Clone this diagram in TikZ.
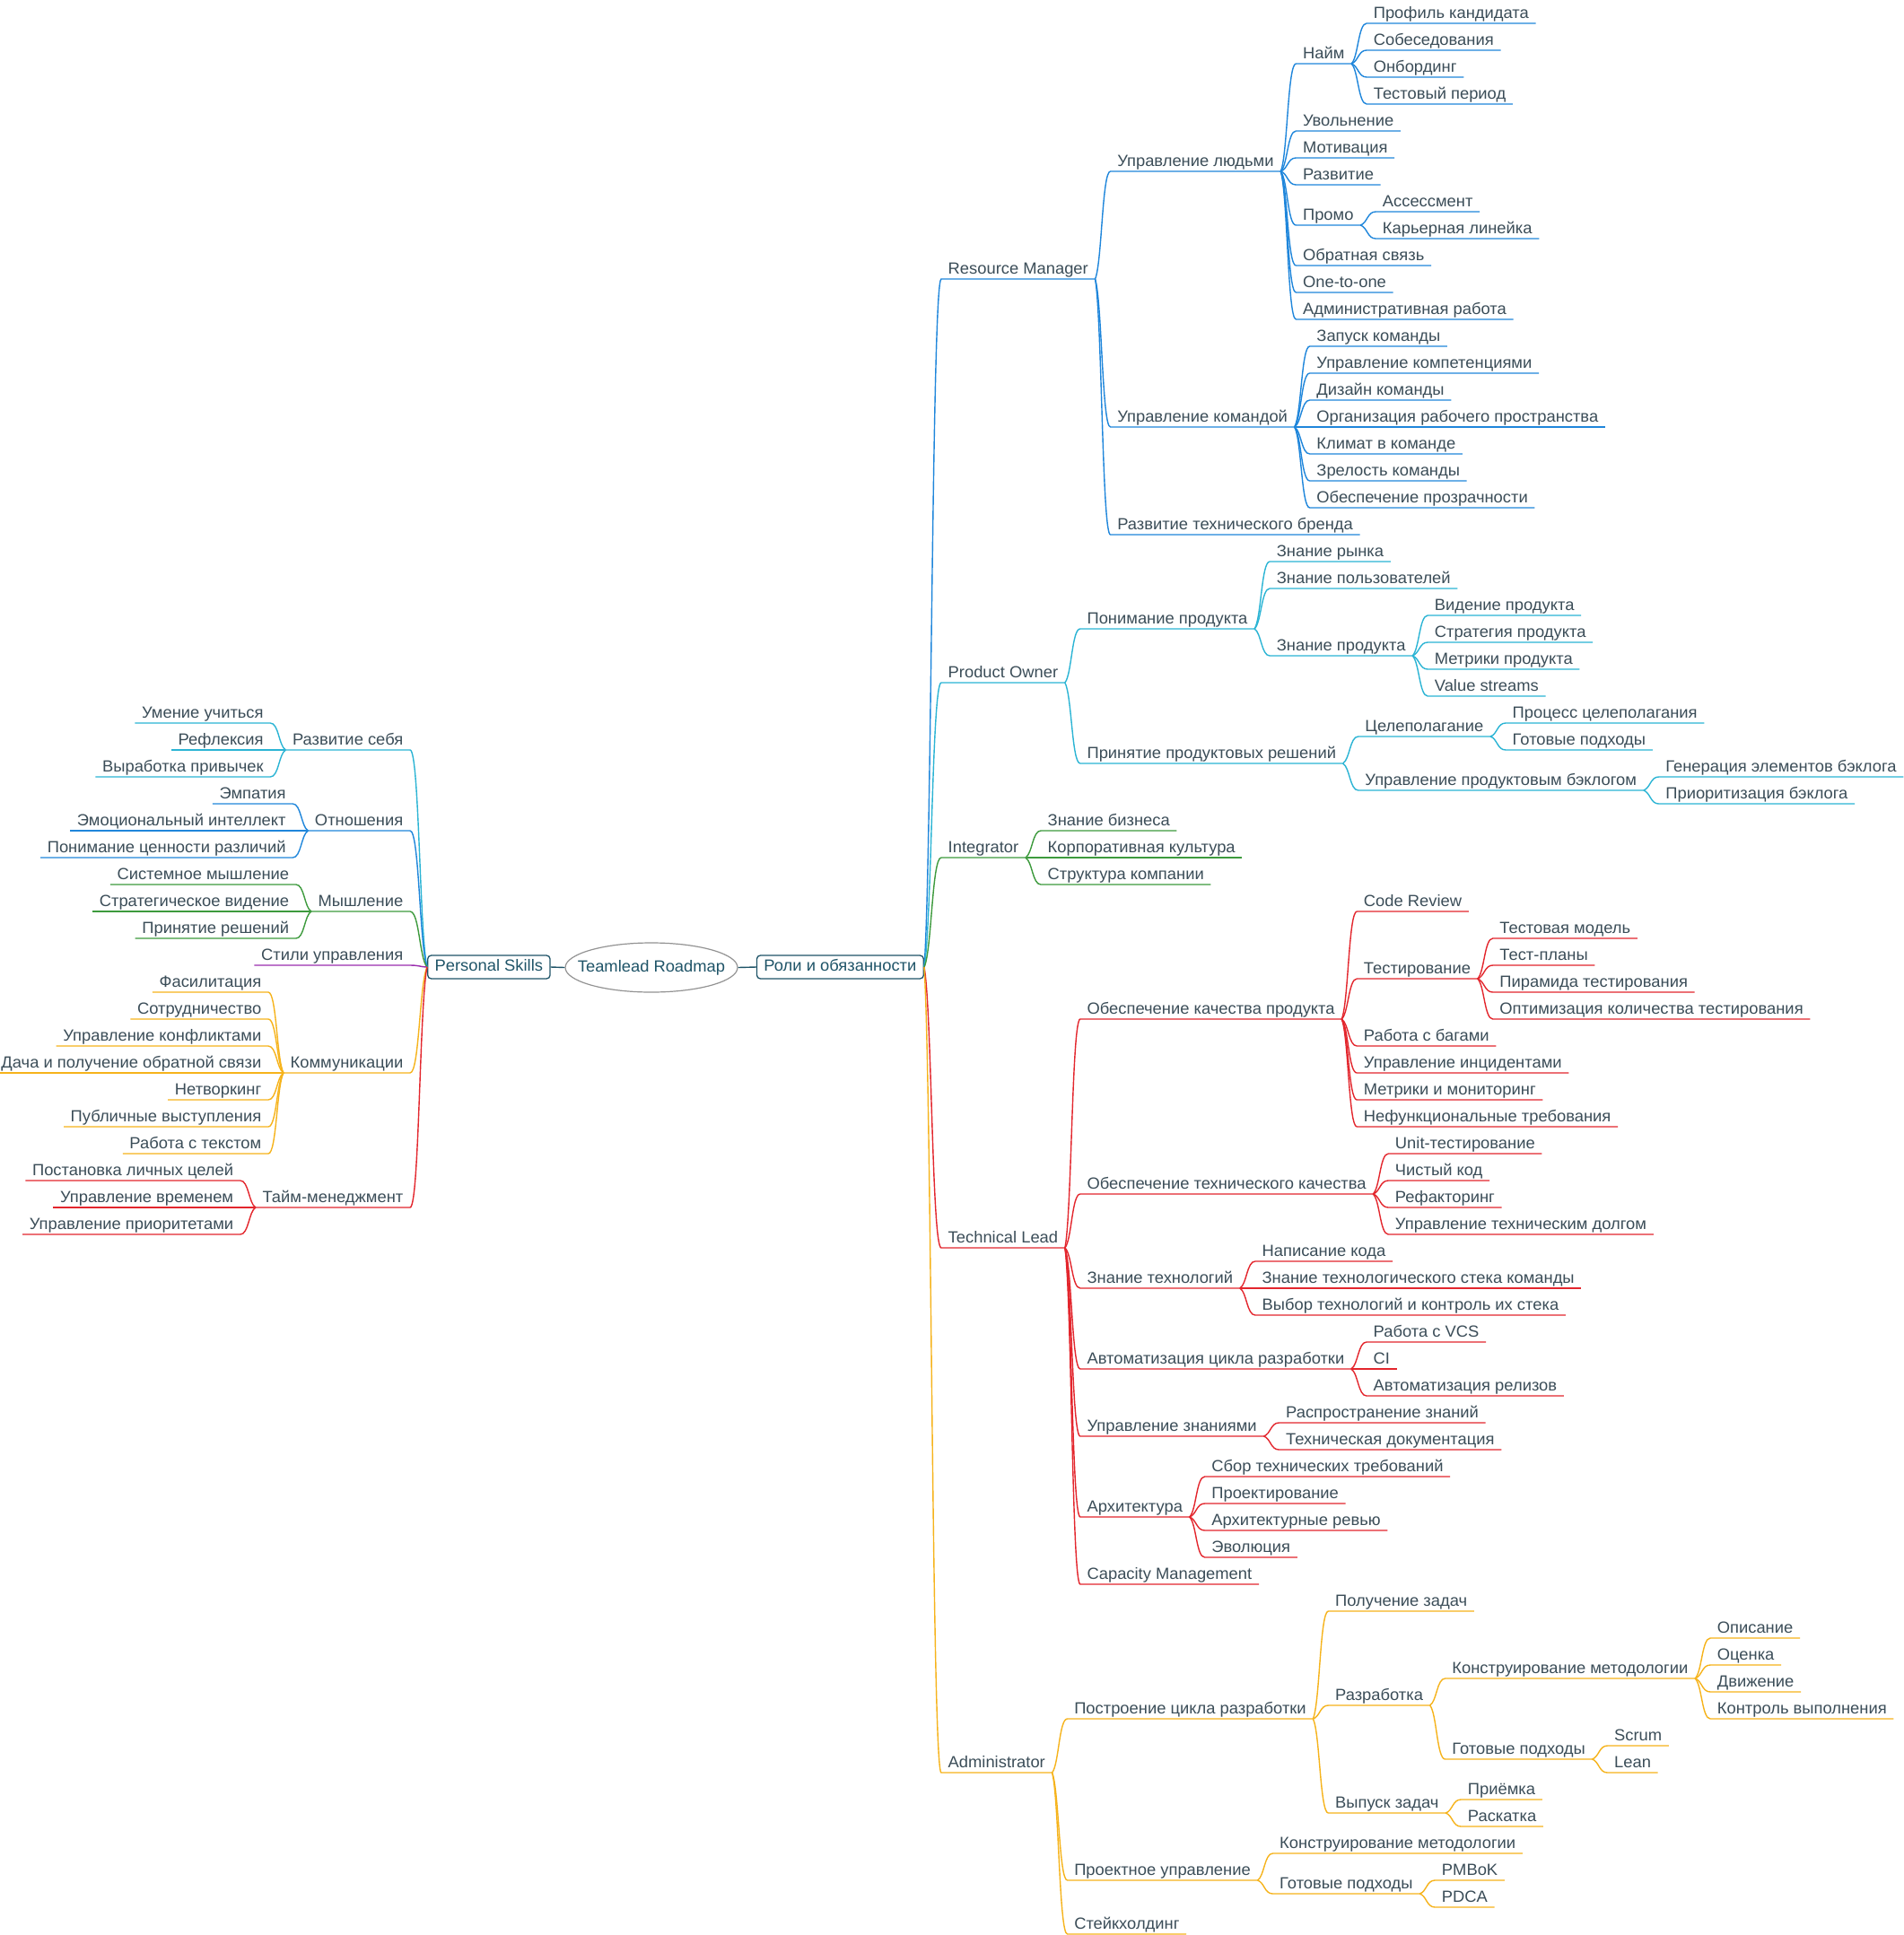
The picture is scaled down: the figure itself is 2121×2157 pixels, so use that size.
\documentclass[tikz,border=0pt]{standalone}
\usepackage{fontspec}
\setmainfont[FakeStretch=1.02]{Liberation Sans}
\usetikzlibrary{calc,shapes.geometric}
\definecolor{cB}{HTML}{1F86DB}
\definecolor{cC}{HTML}{2BB4D4}
\definecolor{cG}{HTML}{3D9A3D}
\definecolor{cR}{HTML}{E3262D}
\definecolor{cY}{HTML}{F6B31B}
\definecolor{cP}{HTML}{9A2DAE}
\definecolor{txt}{HTML}{3B4D58}
\definecolor{boxc}{HTML}{1F5468}
\tikzset{
  topic/.style={font=\fontsize{18}{21}\selectfont, text=txt, inner xsep=7.5pt, inner ysep=1.3pt, text height=13.5pt, text depth=4pt},
  conn/.style={line width=1.4pt, to path={let \p1=(\tikztostart), \p2=(\tikztotarget) in .. controls ({\x1+0.45*(\x2-\x1)},{\y1+0.15*(\y2-\y1)}) and ({\x1+0.45*(\x2-\x1)},\y2) .. (\tikztotarget)}},
  boxnode/.style={draw=boxc, line width=1.3pt, rounded corners=4pt, fill=white, text=boxc, font=\fontsize{18}{21}\selectfont, inner xsep=8pt, inner ysep=0pt, minimum height=26pt, text height=13.5pt, text depth=4pt},
  rootnode/.style={ellipse, draw=gray!85, line width=1.2pt, fill=white, text=boxc, font=\fontsize{18}{21}\selectfont, minimum width=192pt, minimum height=55pt, inner xsep=-17pt, inner ysep=0pt},
  rootline/.style={draw=boxc, line width=1.4pt}
}
\newcommand\topR[6][17]{%
  \pgfmathsetmacro\ry{-(26+30*#4)}%
  \path let \p1=(#3) in node[topic, anchor=south west] (#2) at ({\x1+#1pt},\ry pt) {#6};%
  \draw[conn,#5] (#3) to (#2.south west) -- (#2.south east);%
}
\newcommand\topL[6][17]{%
  \pgfmathsetmacro\ry{-(26+30*#4)}%
  \path let \p1=(#3) in node[topic, anchor=south east] (#2) at ({\x1-#1pt},\ry pt) {#6};%
  \draw[conn,#5] (#3) to (#2.south east) -- (#2.south west);%
}
\begin{document}
\begin{tikzpicture}[x=1pt,y=-1pt]
\useasboundingbox (0,0) rectangle (2121,2157);
\fill[white] (0,0) rectangle (2121,2157);
% centre
\node[rootnode] (root) at (726,1078.5) {Teamlead Roadmap};
\node[boxnode, anchor=east] (roles) at (1030,1078) {Роли и обязанности};
\node[boxnode, anchor=west] (ps) at (476,1078) {Personal Skills};
\draw[rootline] (ps.east) -- (root.west);
\draw[rootline] (root.east) -- (roles.west);
% ===== Resource Manager
\topR[19]{rm}{roles.east}{9.5}{cB}{Resource Manager}
\topR{rma}{rm.south east}{5.5}{cB}{Управление людьми}
\topR{naim}{rma.south east}{1.5}{cB}{Найм}
\topR{na}{naim.south east}{0}{cB}{Профиль кандидата}
\topR{nb}{naim.south east}{1}{cB}{Собеседования}
\topR{nc}{naim.south east}{2}{cB}{Онбординг}
\topR{nd}{naim.south east}{3}{cB}{Тестовый период}
\topR{uv}{rma.south east}{4}{cB}{Увольнение}
\topR{mot}{rma.south east}{5}{cB}{Мотивация}
\topR{razv}{rma.south east}{6}{cB}{Развитие}
\topR{promo}{rma.south east}{7.5}{cB}{Промо}
\topR{assm}{promo.south east}{7}{cB}{Ассессмент}
\topR{karl}{promo.south east}{8}{cB}{Карьерная линейка}
\topR{obs}{rma.south east}{9}{cB}{Обратная связь}
\topR{oto}{rma.south east}{10}{cB}{One-to-one}
\topR{admr}{rma.south east}{11}{cB}{Административная работа}
\topR{rmb}{rm.south east}{15}{cB}{Управление командой}
\topR{ka}{rmb.south east}{12}{cB}{Запуск команды}
\topR{kb}{rmb.south east}{13}{cB}{Управление компетенциями}
\topR{kc}{rmb.south east}{14}{cB}{Дизайн команды}
\topR{kd}{rmb.south east}{15}{cB}{Организация рабочего пространства}
\topR{ke}{rmb.south east}{16}{cB}{Климат в команде}
\topR{kf}{rmb.south east}{17}{cB}{Зрелость команды}
\topR{kg}{rmb.south east}{18}{cB}{Обеспечение прозрачности}
\topR{rmc}{rm.south east}{19}{cB}{Развитие технического бренда}
% ===== Product Owner
\topR[19]{po}{roles.east}{24.5}{cC}{Product Owner}
\topR{poa}{po.south east}{22.5}{cC}{Понимание продукта}
\topR{zr}{poa.south east}{20}{cC}{Знание рынка}
\topR{zpol}{poa.south east}{21}{cC}{Знание пользователей}
\topR{zprod}{poa.south east}{23.5}{cC}{Знание продукта}
\topR{pra}{zprod.south east}{22}{cC}{Видение продукта}
\topR{prb}{zprod.south east}{23}{cC}{Стратегия продукта}
\topR{prc}{zprod.south east}{24}{cC}{Метрики продукта}
\topR{prd}{zprod.south east}{25}{cC}{Value streams}
\topR{pob}{po.south east}{27.5}{cC}{Принятие продуктовых решений}
\topR{cel}{pob.south east}{26.5}{cC}{Целеполагание}
\topR{cela}{cel.south east}{26}{cC}{Процесс целеполагания}
\topR{celb}{cel.south east}{27}{cC}{Готовые подходы}
\topR{bkl}{pob.south east}{28.5}{cC}{Управление продуктовым бэклогом}
\topR{bkla}{bkl.south east}{28}{cC}{Генерация элементов бэклога}
\topR{bklb}{bkl.south east}{29}{cC}{Приоритизация бэклога}
% ===== Integrator
\topR[19]{intg}{roles.east}{31}{cG}{Integrator}
\topR{inta}{intg.south east}{30}{cG}{Знание бизнеса}
\topR{intb}{intg.south east}{31}{cG}{Корпоративная культура}
\topR{intc}{intg.south east}{32}{cG}{Структура компании}
% ===== Technical Lead
\topR[19]{tl}{roles.east}{45.5}{cR}{Technical Lead}
\topR{okp}{tl.south east}{37}{cR}{Обеспечение качества продукта}
\topR{cr}{okp.south east}{33}{cR}{Code Review}
\topR{tst}{okp.south east}{35.5}{cR}{Тестирование}
\topR{tsta}{tst.south east}{34}{cR}{Тестовая модель}
\topR{tstb}{tst.south east}{35}{cR}{Тест-планы}
\topR{tstc}{tst.south east}{36}{cR}{Пирамида тестирования}
\topR{tstd}{tst.south east}{37}{cR}{Оптимизация количества тестирования}
\topR{bug}{okp.south east}{38}{cR}{Работа с багами}
\topR{inc}{okp.south east}{39}{cR}{Управление инцидентами}
\topR{mon}{okp.south east}{40}{cR}{Метрики и мониторинг}
\topR{nft}{okp.south east}{41}{cR}{Нефункциональные требования}
\topR{otk}{tl.south east}{43.5}{cR}{Обеспечение технического качества}
\topR{otka}{otk.south east}{42}{cR}{Unit-тестирование}
\topR{otkb}{otk.south east}{43}{cR}{Чистый код}
\topR{otkc}{otk.south east}{44}{cR}{Рефакторинг}
\topR{otkd}{otk.south east}{45}{cR}{Управление техническим долгом}
\topR{zt}{tl.south east}{47}{cR}{Знание технологий}
\topR{zta}{zt.south east}{46}{cR}{Написание кода}
\topR{ztb}{zt.south east}{47}{cR}{Знание технологического стека команды}
\topR{ztc}{zt.south east}{48}{cR}{Выбор технологий и контроль их стека}
\topR{aut}{tl.south east}{50}{cR}{Автоматизация цикла разработки}
\topR{auta}{aut.south east}{49}{cR}{Работа с VCS}
\topR{autb}{aut.south east}{50}{cR}{CI}
\topR{autc}{aut.south east}{51}{cR}{Автоматизация релизов}
\topR{uz}{tl.south east}{52.5}{cR}{Управление знаниями}
\topR{uza}{uz.south east}{52}{cR}{Распространение знаний}
\topR{uzb}{uz.south east}{53}{cR}{Техническая документация}
\topR{arc}{tl.south east}{55.5}{cR}{Архитектура}
\topR{arca}{arc.south east}{54}{cR}{Сбор технических требований}
\topR{arcb}{arc.south east}{55}{cR}{Проектирование}
\topR{arcc}{arc.south east}{56}{cR}{Архитектурные ревью}
\topR{arcd}{arc.south east}{57}{cR}{Эволюция}
\topR{cap}{tl.south east}{58}{cR}{Capacity Management}
% ===== Administrator
\topR[19]{admn}{roles.east}{65}{cY}{Administrator}
\topR{pc}{admn.south east}{63}{cY}{Построение цикла разработки}
\topR{pz}{pc.south east}{59}{cY}{Получение задач}
\topR{dev}{pc.south east}{62.5}{cY}{Разработка}
\topR{km}{dev.south east}{61.5}{cY}{Конструирование методологии}
\topR{kma}{km.south east}{60}{cY}{Описание}
\topR{kmb}{km.south east}{61}{cY}{Оценка}
\topR{kmc}{km.south east}{62}{cY}{Движение}
\topR{kmd}{km.south east}{63}{cY}{Контроль выполнения}
\topR{gpa}{dev.south east}{64.5}{cY}{Готовые подходы}
\topR{scr}{gpa.south east}{64}{cY}{Scrum}
\topR{lean}{gpa.south east}{65}{cY}{Lean}
\topR{vz}{pc.south east}{66.5}{cY}{Выпуск задач}
\topR{vza}{vz.south east}{66}{cY}{Приёмка}
\topR{vzb}{vz.south east}{67}{cY}{Раскатка}
\topR{pu}{admn.south east}{69}{cY}{Проектное управление}
\topR{pua}{pu.south east}{68}{cY}{Конструирование методологии}
\topR{gpb}{pu.south east}{69.5}{cY}{Готовые подходы}
\topR{pmb}{gpb.south east}{69}{cY}{PMBoK}
\topR{pdca}{gpb.south east}{70}{cY}{PDCA}
\topR{stk}{admn.south east}{71}{cY}{Стейкхолдинг}
% ===== Personal Skills
\topL[19]{rs}{ps.west}{27}{cC}{Развитие себя}
\topL{rsa}{rs.south west}{26}{cC}{Умение учиться}
\topL{rsb}{rs.south west}{27}{cC}{Рефлексия}
\topL{rsc}{rs.south west}{28}{cC}{Выработка привычек}
\topL[19]{otn}{ps.west}{30}{cB}{Отношения}
\topL{otna}{otn.south west}{29}{cB}{Эмпатия}
\topL{otnb}{otn.south west}{30}{cB}{Эмоциональный интеллект}
\topL{otnc}{otn.south west}{31}{cB}{Понимание ценности различий}
\topL[19]{my}{ps.west}{33}{cG}{Мышление}
\topL{mya}{my.south west}{32}{cG}{Системное мышление}
\topL{myb}{my.south west}{33}{cG}{Стратегическое видение}
\topL{myc}{my.south west}{34}{cG}{Принятие решений}
\topL[19]{su}{ps.west}{35}{cP}{Стили управления}
\topL[19]{kom}{ps.west}{39}{cY}{Коммуникации}
\topL{koma}{kom.south west}{36}{cY}{Фасилитация}
\topL{komb}{kom.south west}{37}{cY}{Сотрудничество}
\topL{komc}{kom.south west}{38}{cY}{Управление конфликтами}
\topL{komd}{kom.south west}{39}{cY}{Дача и получение обратной связи}
\topL{kome}{kom.south west}{40}{cY}{Нетворкинг}
\topL{komf}{kom.south west}{41}{cY}{Публичные выступления}
\topL{komg}{kom.south west}{42}{cY}{Работа с текстом}
\topL[19]{tmm}{ps.west}{44}{cR}{Тайм-менеджмент}
\topL{tmma}{tmm.south west}{43}{cR}{Постановка личных целей}
\topL{tmmb}{tmm.south west}{44}{cR}{Управление временем}
\topL{tmmc}{tmm.south west}{45}{cR}{Управление приоритетами}
\end{tikzpicture}
\end{document}
